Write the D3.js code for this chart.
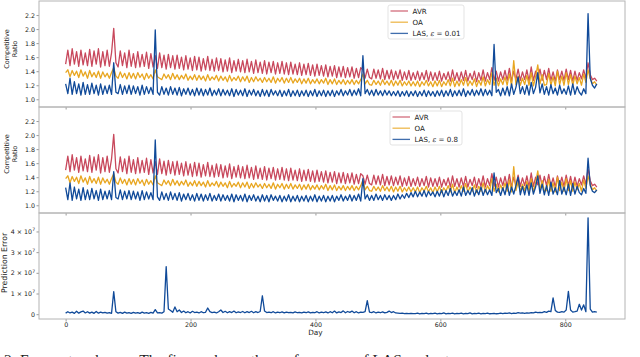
<!DOCTYPE html>
<html>
<head>
<meta charset="utf-8">
<script src="https://cdn.jsdelivr.net/npm/d3@7"></script>
<style>
  body { margin: 0; background: #fff; }
  svg { display: block; font-family: "DejaVu Sans", sans-serif; }
</style>
</head>
<body>
<svg id="chart" width="640" height="357"></svg>
<script>
// one sample every 3.5 days (trough / peak of the weekly cycle)
const step = 3.5;

const avr = [
  1.50,1.70,1.48,1.72,1.50,1.68,1.47,1.70,1.49,1.66,
  1.48,1.71,1.47,1.69,1.50,1.72,1.46,1.68,1.48,1.70,
  1.47,1.66,2.01,1.52,1.46,1.69,1.48,1.66,1.45,1.70,
  1.47,1.65,1.45,1.68,1.46,1.64,1.47,1.67,1.44,1.65,
  1.46,1.62,1.44,1.66,1.45,1.63,1.43,1.64,1.45,1.62,
  1.43,1.63,1.44,1.60,1.42,1.62,1.43,1.59,1.41,1.61,
  1.42,1.60,1.40,1.58,1.42,1.61,1.41,1.57,1.40,1.59,
  1.41,1.58,1.39,1.56,1.40,1.59,1.38,1.55,1.40,1.57,
  1.39,1.55,1.38,1.57,1.39,1.54,1.37,1.56,1.38,1.53,
  1.37,1.55,1.36,1.53,1.38,1.54,1.36,1.52,1.37,1.54,
  1.36,1.52,1.35,1.53,1.36,1.50,1.35,1.52,1.34,1.50,
  1.35,1.51,1.34,1.49,1.33,1.50,1.34,1.48,1.33,1.49,
  1.32,1.47,1.33,1.48,1.31,1.46,1.32,1.47,1.31,1.45,
  1.32,1.46,1.30,1.44,1.31,1.45,1.42,1.30,1.43,1.31,
  1.29,1.43,1.30,1.42,1.29,1.44,1.28,1.41,1.29,1.42,
  1.28,1.40,1.29,1.42,1.27,1.39,1.28,1.41,1.27,1.38,
  1.28,1.40,1.27,1.38,1.28,1.41,1.26,1.39,1.27,1.38,
  1.27,1.40,1.26,1.37,1.28,1.39,1.26,1.42,1.27,1.38,
  1.26,1.39,1.27,1.41,1.26,1.37,1.28,1.40,1.25,1.38,
  1.27,1.42,1.26,1.38,1.28,1.45,1.27,1.40,1.26,1.39,
  1.28,1.41,1.27,1.44,1.26,1.40,1.28,1.43,1.27,1.39,
  1.28,1.42,1.26,1.46,1.27,1.40,1.29,1.43,1.27,1.41,
  1.28,1.44,1.27,1.39,1.26,1.42,1.28,1.40,1.27,1.43,
  1.28,1.41,1.26,1.40,1.27,1.38,1.29,1.42,1.30,1.52,
  1.35,1.28,1.30,1.26
];

const oa = [
  1.38,1.42,1.32,1.41,1.34,1.40,1.31,1.42,1.33,1.39,
  1.30,1.41,1.32,1.38,1.31,1.40,1.30,1.39,1.32,1.37,
  1.30,1.38,1.45,1.33,1.30,1.39,1.31,1.37,1.29,1.38,
  1.30,1.37,1.29,1.38,1.31,1.36,1.28,1.37,1.30,1.35,
  1.29,1.42,1.32,1.30,1.28,1.36,1.30,1.35,1.28,1.37,
  1.29,1.35,1.28,1.34,1.29,1.36,1.27,1.33,1.28,1.35,
  1.27,1.34,1.28,1.33,1.26,1.35,1.27,1.32,1.28,1.34,
  1.26,1.33,1.27,1.32,1.25,1.34,1.26,1.31,1.27,1.33,
  1.25,1.32,1.26,1.33,1.24,1.31,1.25,1.32,1.26,1.30,
  1.24,1.31,1.25,1.30,1.24,1.32,1.23,1.30,1.25,1.31,
  1.23,1.30,1.24,1.31,1.23,1.29,1.24,1.30,1.22,1.29,
  1.23,1.30,1.22,1.28,1.23,1.29,1.22,1.28,1.23,1.30,
  1.21,1.28,1.22,1.29,1.21,1.27,1.22,1.28,1.21,1.27,
  1.22,1.28,1.21,1.27,1.22,1.28,1.36,1.22,1.27,1.21,
  1.20,1.27,1.21,1.26,1.20,1.28,1.21,1.26,1.20,1.27,
  1.19,1.26,1.20,1.27,1.19,1.25,1.20,1.26,1.19,1.25,
  1.19,1.26,1.18,1.25,1.20,1.27,1.19,1.25,1.18,1.26,
  1.19,1.27,1.18,1.25,1.20,1.28,1.19,1.30,1.18,1.26,
  1.19,1.28,1.20,1.31,1.19,1.26,1.20,1.29,1.18,1.27,
  1.20,1.32,1.19,1.28,1.21,1.38,1.20,1.30,1.19,1.29,
  1.21,1.32,1.20,1.36,1.19,1.55,1.21,1.33,1.20,1.30,
  1.21,1.34,1.20,1.38,1.19,1.32,1.49,1.22,1.35,1.20,
  1.21,1.37,1.20,1.32,1.19,1.40,1.21,1.33,1.20,1.38,
  1.21,1.35,1.20,1.33,1.22,1.31,1.20,1.36,1.24,1.42,
  1.30,1.22,1.25,1.20
];

const las001 = [
  1.22,1.08,1.30,1.07,1.25,1.08,1.22,1.06,1.24,1.07,
  1.21,1.07,1.23,1.08,1.20,1.06,1.22,1.07,1.19,1.08,
  1.20,1.07,1.52,1.10,1.08,1.21,1.07,1.19,1.08,1.20,
  1.07,1.19,1.08,1.18,1.06,1.20,1.07,1.18,1.08,1.17,
  1.07,1.99,1.10,1.06,1.18,1.07,1.16,1.06,1.18,1.07,
  1.16,1.06,1.17,1.05,1.15,1.07,1.16,1.06,1.14,1.05,
  1.16,1.06,1.15,1.05,1.14,1.06,1.16,1.05,1.13,1.06,
  1.15,1.05,1.14,1.06,1.13,1.05,1.15,1.04,1.14,1.06,
  1.13,1.05,1.15,1.04,1.13,1.06,1.14,1.05,1.12,1.04,
  1.14,1.05,1.13,1.04,1.14,1.06,1.12,1.05,1.13,1.04,
  1.12,1.05,1.14,1.04,1.12,1.05,1.13,1.04,1.12,1.05,
  1.13,1.04,1.12,1.05,1.14,1.04,1.12,1.05,1.13,1.04,
  1.12,1.05,1.13,1.04,1.12,1.06,1.14,1.05,1.12,1.06,
  1.14,1.05,1.13,1.06,1.15,1.05,1.62,1.08,1.14,1.06,
  1.13,1.05,1.14,1.06,1.12,1.05,1.13,1.06,1.12,1.05,
  1.11,1.05,1.12,1.04,1.11,1.05,1.12,1.04,1.11,1.05,
  1.12,1.04,1.11,1.05,1.13,1.04,1.12,1.05,1.11,1.04,
  1.12,1.05,1.13,1.04,1.12,1.05,1.14,1.04,1.12,1.05,
  1.13,1.05,1.15,1.04,1.12,1.06,1.14,1.05,1.13,1.06,
  1.15,1.05,1.14,1.06,1.13,1.05,1.78,1.10,1.14,1.05,
  1.16,1.06,1.18,1.05,1.22,1.07,1.17,1.32,1.08,1.18,
  1.07,1.20,1.06,1.24,1.08,1.17,1.38,1.09,1.22,1.07,
  1.18,1.06,1.21,1.08,1.16,1.06,1.20,1.08,1.15,1.07,
  1.19,1.06,1.22,1.07,1.18,1.10,1.06,1.15,1.08,2.22,
  1.30,1.20,1.16,1.22
];

const las08 = [
  1.25,1.08,1.32,1.07,1.26,1.09,1.23,1.07,1.25,1.08,
  1.22,1.08,1.24,1.09,1.21,1.07,1.23,1.08,1.20,1.09,
  1.21,1.08,1.48,1.11,1.09,1.22,1.08,1.20,1.09,1.21,
  1.08,1.20,1.09,1.19,1.07,1.21,1.08,1.19,1.09,1.18,
  1.08,1.93,1.12,1.07,1.19,1.08,1.17,1.07,1.19,1.08,
  1.17,1.07,1.18,1.06,1.16,1.08,1.17,1.07,1.15,1.06,
  1.17,1.07,1.16,1.06,1.15,1.07,1.17,1.06,1.14,1.07,
  1.16,1.06,1.15,1.07,1.14,1.06,1.16,1.05,1.15,1.07,
  1.14,1.06,1.16,1.05,1.14,1.07,1.15,1.06,1.13,1.05,
  1.15,1.06,1.14,1.05,1.15,1.07,1.13,1.06,1.14,1.05,
  1.13,1.06,1.15,1.05,1.13,1.06,1.14,1.05,1.13,1.06,
  1.14,1.05,1.13,1.06,1.15,1.05,1.13,1.06,1.14,1.05,
  1.13,1.06,1.14,1.05,1.13,1.07,1.15,1.06,1.13,1.07,
  1.15,1.06,1.14,1.07,1.16,1.06,1.38,1.09,1.15,1.07,
  1.14,1.07,1.16,1.08,1.14,1.07,1.15,1.08,1.14,1.07,
  1.14,1.08,1.16,1.09,1.15,1.10,1.17,1.11,1.18,1.12,
  1.20,1.12,1.19,1.13,1.21,1.12,1.20,1.14,1.19,1.12,
  1.20,1.13,1.22,1.12,1.21,1.14,1.24,1.13,1.20,1.14,
  1.22,1.13,1.26,1.14,1.21,1.15,1.25,1.13,1.22,1.15,
  1.26,1.14,1.23,1.15,1.22,1.14,1.46,1.18,1.24,1.14,
  1.25,1.15,1.30,1.14,1.26,1.16,1.28,1.40,1.15,1.27,
  1.15,1.29,1.14,1.32,1.16,1.26,1.42,1.17,1.30,1.15,
  1.28,1.14,1.33,1.16,1.25,1.15,1.35,1.16,1.26,1.15,
  1.30,1.14,1.31,1.16,1.27,1.18,1.15,1.24,1.17,1.67,
  1.28,1.20,1.18,1.22
];

// prediction error, in units of 1e7
const predErr = [
  0.05,0.12,0.06,0.10,0.04,0.14,0.05,0.11,0.15,0.06,
  0.12,0.05,0.10,0.04,0.13,0.05,0.10,0.06,0.09,0.05,
  0.08,0.04,1.09,0.12,0.05,0.09,0.04,0.10,0.05,0.08,
  0.04,0.09,0.05,0.08,0.04,0.10,0.05,0.07,0.04,0.09,
  0.05,0.22,0.06,0.08,0.05,0.12,2.30,0.25,0.18,0.09,
  0.35,0.12,0.20,0.08,0.15,0.07,0.12,0.06,0.14,0.08,
  0.10,0.06,0.12,0.07,0.09,0.30,0.12,0.08,0.10,0.06,
  0.12,0.20,0.08,0.14,0.07,0.12,0.08,0.15,0.07,0.11,
  0.08,0.13,0.07,0.12,0.08,0.14,0.07,0.12,0.08,0.13,
  0.89,0.15,0.08,0.10,0.07,0.12,0.06,0.10,0.07,0.11,
  0.06,0.10,0.07,0.09,0.06,0.11,0.07,0.09,0.06,0.10,
  0.07,0.11,0.06,0.09,0.07,0.12,0.06,0.10,0.07,0.11,
  0.06,0.12,0.07,0.15,0.06,0.11,0.08,0.16,0.07,0.13,
  0.09,0.15,0.07,0.12,0.06,0.10,0.09,0.12,0.66,0.10,
  0.08,0.12,0.06,0.10,0.07,0.11,0.06,0.09,0.15,0.08,
  0.12,0.06,0.05,0.04,0.05,0.03,0.04,0.03,0.04,0.03,
  0.03,0.05,0.02,0.04,0.03,0.05,0.02,0.04,0.03,0.05,
  0.02,0.04,0.03,0.06,0.02,0.04,0.03,0.05,0.02,0.04,
  0.03,0.05,0.02,0.04,0.03,0.06,0.02,0.04,0.03,0.05,
  0.02,0.04,0.03,0.05,0.02,0.03,0.04,0.02,0.03,0.05,
  0.03,0.05,0.04,0.06,0.03,0.05,0.04,0.07,0.05,0.06,
  0.04,0.06,0.05,0.08,0.06,0.10,0.07,0.09,0.08,0.12,
  0.09,0.15,0.12,0.79,0.18,0.10,0.09,0.12,0.10,0.20,
  1.10,0.20,0.10,0.12,0.15,0.48,0.20,0.45,0.12,4.66,
  0.25,0.10,0.12,0.10
];

const xTicks = [0, 200, 400, 600, 800];
const ratioTicks = [1.0, 1.2, 1.4, 1.6, 1.8, 2.0, 2.2];
const errTicks = [0, 1, 2, 3, 4];

const colors = { avr: "#c8485c", oa: "#e8a620", las: "#104a99" };

const svg = d3.select("#chart");
const left = 39, right = 625;
const tickFont = 6.3;

const x = d3.scaleLinear().domain([-42.65, 895.65]).range([left, right]);

const panels = [
  { top: 1, bottom: 107, domain: [0.89, 2.4], ticks: ratioTicks, fmt: d3.format(".1f"),
    series: [["avr", avr], ["oa", oa], ["las", las001]],
    ylabel: ["Competitive", "Ratio"], labelY: 49, eps: "0.01",
    legend: { x: 388, y: 5, w: 76 } },
  { top: 107, bottom: 213, domain: [0.89, 2.4], ticks: ratioTicks, fmt: d3.format(".1f"),
    series: [["avr", avr], ["oa", oa], ["las", las08]],
    ylabel: ["Competitive", "Ratio"], labelY: 154, eps: "0.8",
    legend: { x: 390, y: 111, w: 72 } },
  { top: 213, bottom: 319, domain: [-0.233, 4.893], ticks: errTicks, fmt: null,
    series: [["las", predErr]],
    ylabel: ["Prediction Error"], labelY: 263 }
];

panels.forEach((p, pi) => {
  const y = d3.scaleLinear().domain(p.domain).range([p.bottom, p.top]);
  const g = svg.append("g");

  g.append("defs").append("clipPath").attr("id", "clip" + pi)
    .append("rect").attr("x", left).attr("y", p.top)
    .attr("width", right - left).attr("height", p.bottom - p.top);

  const line = d3.line().x((d, i) => x(i * step)).y(d => y(d));
  const plot = g.append("g").attr("clip-path", "url(#clip" + pi + ")");
  p.series.forEach(([key, vals]) => {
    plot.append("path").datum(vals)
      .attr("d", line)
      .attr("fill", "none")
      .attr("stroke", colors[key])
      .attr("stroke-width", 1.3)
      .attr("stroke-linejoin", "round");
  });

  // y axis
  const yAxis = g.append("g").attr("transform", `translate(${left},0)`)
    .call(d3.axisLeft(y).tickValues(p.ticks).tickSize(2.5).tickPadding(1.5)
      .tickFormat(p.fmt ? p.fmt : d => ""));
  yAxis.select(".domain").remove();
  yAxis.selectAll("line").attr("stroke", "#555").attr("stroke-width", 0.6);
  yAxis.selectAll("text").attr("font-size", tickFont).attr("fill", "#222")
    .attr("font-family", "DejaVu Sans, sans-serif");
  if (!p.fmt) {
    yAxis.selectAll("text").each(function(d) {
      const t = d3.select(this);
      if (d === 0) { t.text("0"); return; }
      t.append("tspan").text(d + " \u00d7 10");
      t.append("tspan").attr("font-size", 4.5).attr("dy", -2.8).text("7");
    });
  }

  // x axis ticks (labels on the bottom panel only)
  const xAxis = g.append("g").attr("transform", `translate(0,${p.bottom})`)
    .call(d3.axisBottom(x).tickValues(xTicks).tickSize(2.5).tickPadding(0.8)
      .tickFormat(pi === 2 ? d3.format("d") : ""));
  xAxis.select(".domain").remove();
  xAxis.selectAll("line").attr("stroke", "#555").attr("stroke-width", 0.6);
  xAxis.selectAll("text").attr("font-size", tickFont).attr("fill", "#222")
    .attr("font-family", "DejaVu Sans, sans-serif");

  // frame
  g.append("rect").attr("x", left).attr("y", p.top)
    .attr("width", right - left).attr("height", p.bottom - p.top)
    .attr("fill", "none").attr("stroke", "#b4b4b4").attr("stroke-width", 1);

  // y label
  const two = p.ylabel.length > 1;
  const lab = g.append("text")
    .attr("transform", `translate(${two ? 9 : 7},${p.labelY}) rotate(-90)`)
    .attr("text-anchor", "middle").attr("font-size", two ? 6.5 : 7.8).attr("fill", "#222");
  p.ylabel.forEach((s, i) => {
    lab.append("tspan").attr("x", 0).attr("dy", i === 0 ? 0 : 8.2).text(s);
  });

  // legend
  if (p.legend) {
    const L = p.legend;
    const lg = g.append("g").attr("transform", `translate(${L.x},${L.y})`);
    lg.append("rect").attr("width", L.w).attr("height", 34).attr("rx", 2)
      .attr("fill", "#fff").attr("fill-opacity", 0.85)
      .attr("stroke", "#dcdcdc").attr("stroke-width", 0.8);
    const items = [["avr", "AVR"], ["oa", "OA"], ["las", "LAS"]];
    items.forEach(([key, name], i) => {
      const yy = 6 + i * 11.2;
      lg.append("line").attr("x1", 2.5).attr("x2", 20).attr("y1", yy).attr("y2", yy)
        .attr("stroke", colors[key]).attr("stroke-width", 1.3).attr("stroke-opacity", 0.8);
      const t = lg.append("text").attr("x", 24.5).attr("y", yy + 2.5)
        .attr("font-size", 7.1).attr("fill", "#222");
      if (key === "las") {
        t.append("tspan").text("LAS, ");
        t.append("tspan").attr("font-style", "italic").attr("font-family", "DejaVu Serif, serif").text("\u03b5");
        t.append("tspan").text(" = " + p.eps);
      } else {
        t.text(name);
      }
    });
  }
});

svg.append("text").attr("x", x(400)).attr("y", 335)
  .attr("text-anchor", "middle").attr("font-size", 7.3).attr("fill", "#222").text("Day");

// caption of the source figure, cut off by the frame
svg.append("text").attr("x", 4).attr("y", 365)
  .attr("font-family", "Liberation Serif, serif").attr("font-size", 15.5).attr("fill", "#222")
  .attr("xml:space", "preserve")
  .text("2: Forecast and error. The figure shows the performance of LAS under two");
</script>
</body>
</html>
